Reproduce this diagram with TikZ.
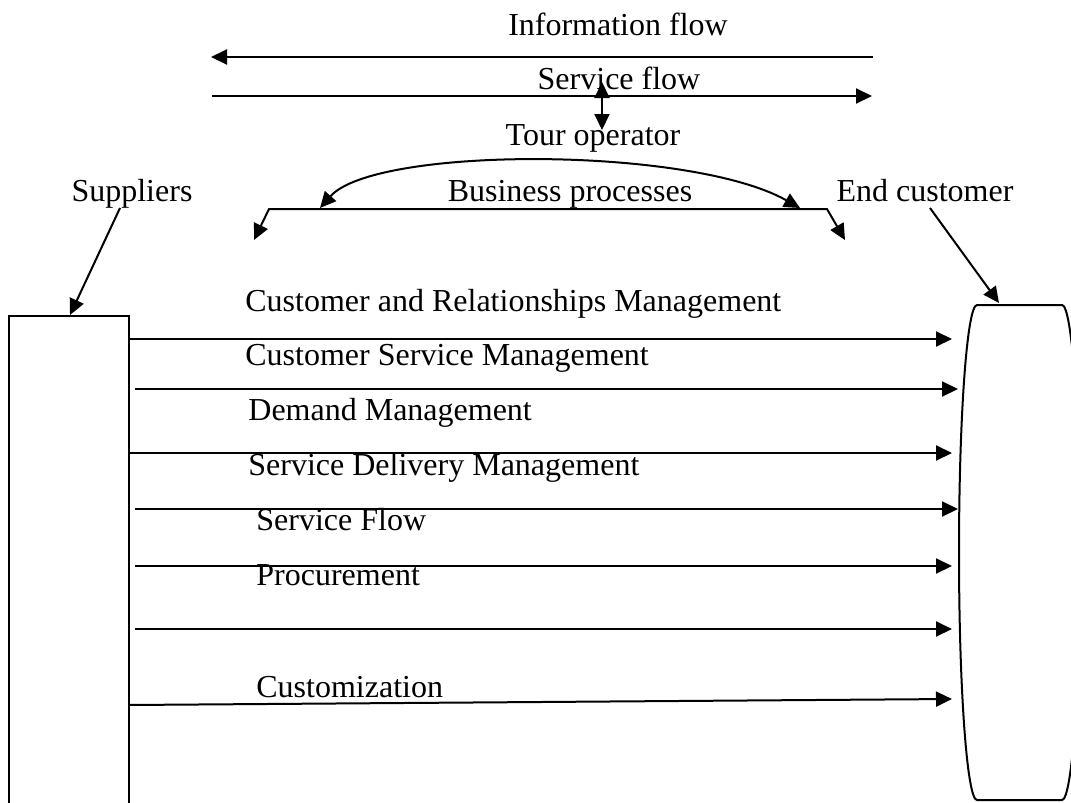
\documentclass[tikz,border=0pt]{standalone}
\usepackage{fontspec}
\setmainfont{Liberation Serif}
\usetikzlibrary{arrows.meta}
\begin{document}
\begin{tikzpicture}[x=0.5pt,y=-0.5pt,
  lbl/.style={inner sep=0pt, font=\fontsize{16}{19}\selectfont},
  ln/.style={line width=1pt},
  flow/.style={ln, -{Triangle[length=8pt,width=7.5pt]}},
  biflow/.style={ln, {Triangle[length=8pt,width=7.5pt]}-{Triangle[length=8pt,width=7.5pt]}}]
\useasboundingbox (0,0) rectangle (1071,803);
\clip (0,0) rectangle (1071,803);

% top flows
\node[lbl, anchor=base] (info) at (618,35) {Information flow};
\coordinate (infoR) at (873,57);
\coordinate (infoL) at (211,57);
\draw[flow] (infoR) -- (infoL);

\node[lbl, anchor=base] (svc) at (619,89) {Service flow};
\coordinate (svcL) at (212,96);
\coordinate (svcR) at (872,96);
\draw[flow] (svcL) -- (svcR);

\node[lbl, anchor=base] (tour) at (593,145) {Tour operator};
\coordinate (tvTop) at (602,82);
\coordinate (tvBot) at (602,130);
\draw[biflow] (tvTop) -- (tvBot);

% business processes
\node[lbl, anchor=base] (bp) at (570,201) {Business processes};
\coordinate (bpL) at (320,208);
\coordinate (bpR) at (800,208);
\draw[biflow] (bpL) .. controls (375,146) and (690,146) .. (bpR);

\coordinate (brL) at (269,209);
\coordinate (brR) at (827,209);
\coordinate (brLt) at (254,240);
\coordinate (brRt) at (845,240);
\draw[biflow] (brLt) -- (brL) -- (brR) -- (brRt);

% suppliers / end customer
\node[lbl, anchor=base] (sup) at (132,201) {Suppliers};
\coordinate (supA) at (120,208);
\coordinate (supB) at (70,315);
\draw[flow] (supA) -- (supB);

\node[lbl, anchor=base] (endc) at (925,201) {End customer};
\coordinate (endA) at (930,208);
\coordinate (endB) at (999,303);
\draw[flow] (endA) -- (endB);

% supplier box (open at the bottom)
\coordinate (boxTL) at (9,316);
\coordinate (boxTR) at (129,316);
\draw[ln] (9,803) -- (boxTL) -- (boxTR) -- (129,803);

% customer cylinder
\coordinate (cylTL) at (977,305);
\draw[ln] (cylTL) arc[start angle=270, end angle=90, x radius=18, y radius=247.5]
  -- (1062,800) arc[start angle=90, end angle=-90, x radius=18, y radius=247.5] -- cycle;

% process arrows
\coordinate (a1L) at (129,339); \coordinate (a1R) at (952,339);
\coordinate (a2L) at (135,389); \coordinate (a2R) at (958,389);
\coordinate (a3L) at (129,453); \coordinate (a3R) at (952,453);
\coordinate (a4L) at (135,509); \coordinate (a4R) at (958,509);
\coordinate (a5L) at (135,566); \coordinate (a5R) at (952,566);
\coordinate (a6L) at (135,629); \coordinate (a6R) at (952,629);
\coordinate (a7L) at (129,705); \coordinate (a7R) at (952,699);
\foreach \i in {1,...,7} {\draw[flow] (a\i L) -- (a\i R);}

\node[lbl, anchor=base west] (p1) at (245,311) {Customer and Relationships Management};
\node[lbl, anchor=base west] (p2) at (245,365) {Customer Service Management};
\node[lbl, anchor=base west] (p3) at (248,420) {Demand Management};
\node[lbl, anchor=base west] (p4) at (248,475) {Service Delivery Management};
\node[lbl, anchor=base west] (p5) at (256,530) {Service Flow};
\node[lbl, anchor=base west] (p6) at (256,585) {Procurement};
\node[lbl, anchor=base west] (p7) at (256,697) {Customization};
\end{tikzpicture}
\end{document}
